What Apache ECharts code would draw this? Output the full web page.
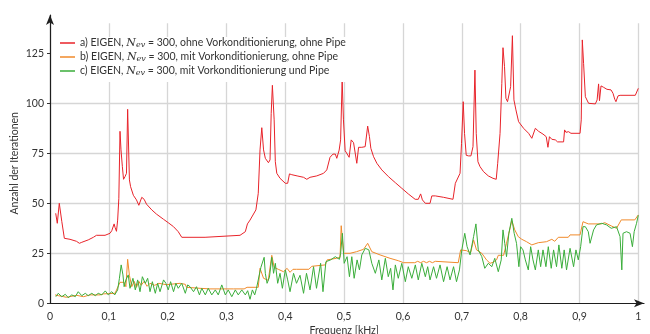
<!DOCTYPE html>
<html>
<head>
<meta charset="utf-8">
<title>EIGEN Iterationen</title>
<script src="https://cdn.jsdelivr.net/npm/echarts@6/dist/echarts.min.js"></script>
<style>
  html, body { margin: 0; padding: 0; background: #fff; }
  #chart { width: 650px; height: 334px; }
</style>
</head>
<body>
<div id="chart"></div>
<script>
// Frequency in kHz and iteration counts, [f, n] pairs per configuration
const eigenOhneVkOhnePipe = [
  [0.0097,45],[0.0124,40],[0.014,40],[0.0158,50],[0.02,41],[0.0216,40],[0.0244,32.5],[0.0267,32],[0.034,32],[0.0357,31],
  [0.045,31],[0.05,30],[0.054,30.5],[0.0556,31],[0.065,31.7],[0.068,32.5],[0.0737,33],[0.079,34],[0.0935,34],[0.095,35],
  [0.102,35],[0.105,36.3],[0.109,39.7],[0.1105,38],[0.113,36],[0.115,41.6],[0.117,52.5],[0.119,86],[0.1207,76.7],[0.123,68.3],
  [0.125,62],[0.1275,63.3],[0.13,65],[0.132,97],[0.135,61.7],[0.137,58.3],[0.1417,54],[0.147,51.7],[0.151,49],[0.153,48.7],
  [0.156,53],[0.16,52],[0.164,49.6],[0.173,46.7],[0.181,44.6],[0.193,42],[0.201,40.3],[0.21,38.3],[0.218,35.8],[0.224,33],
  [0.2636,33],[0.2665,34],[0.323,34],[0.326,34.8],[0.332,35.8],[0.3356,39.7],[0.34,41.6],[0.35,46.7],[0.3526,45.8],[0.354,55],
  [0.357,76.7],[0.36,87.8],[0.363,76.7],[0.366,72.5],[0.3713,70.3],[0.374,71.7],[0.376,95],[0.378,109],[0.381,91.7],[0.383,70.8],
  [0.3855,65],[0.391,62.5],[0.4,60],[0.404,60],[0.407,64.7],[0.411,64.3],[0.42,63.7],[0.431,63],[0.4365,62],[0.442,63],
  [0.4535,63.7],[0.465,65],[0.4705,66.7],[0.476,73],[0.481,74.6],[0.485,74.6],[0.4875,72.5],[0.4915,76.6],[0.494,81.7],[0.4966,112],
  [0.4988,91.7],[0.5017,76.3],[0.5046,75.3],[0.5085,73],[0.512,81.7],[0.516,80.3],[0.519,80],[0.5215,70],[0.5245,78],[0.53,78],
  [0.5357,78.3],[0.54,88.6],[0.543,83.3],[0.5454,77.5],[0.55,73.3],[0.5556,70],[0.564,66.7],[0.5754,63.3],[0.587,60.3],[0.598,57.5],
  [0.609,54.7],[0.6207,52],[0.626,52],[0.63,54.7],[0.633,51.7],[0.638,50],[0.646,50],[0.649,53.7],[0.655,53.7],[0.6576,53],
  [0.669,53],[0.6718,52],[0.685,52],[0.689,60],[0.697,65],[0.6995,80],[0.7024,100.8],[0.7046,85],[0.7075,74],[0.7115,73.7],
  [0.7155,73.7],[0.719,78.3],[0.7223,116.6],[0.7245,85],[0.7274,70.8],[0.731,68.3],[0.737,65.8],[0.745,63.7],[0.753,62.5],[0.7585,62],
  [0.761,70],[0.765,85],[0.768,110],[0.77,127.8],[0.7726,118.3],[0.775,102.5],[0.7777,100.8],[0.781,100.8],[0.783,108.3],[0.786,133.8],
  [0.7886,101.7],[0.792,96.7],[0.7965,90.8],[0.805,87.5],[0.8135,85],[0.819,82.5],[0.822,81.7],[0.825,87.5],[0.8305,86],[0.838,84.6],
  [0.8435,83.3],[0.8464,78],[0.849,83.3],[0.853,82],[0.859,81.7],[0.8628,80.7],[0.873,80.7],[0.8747,86.7],[0.877,85.5],[0.8815,85.8],
  [0.8855,85],[0.901,85],[0.903,91.7],[0.9048,131.7],[0.907,120],[0.91,103.3],[0.9155,100],[0.927,99.7],[0.93,101.7],[0.9325,109.7],
  [0.934,101.3],[0.9366,108.7],[0.941,108],[0.9467,107],[0.9536,106.7],[0.957,105],[0.96,102],[0.962,100.8],[0.9655,103.7],[0.969,104],
  [0.9949,104],[1.0,107.5]
];

const eigenMitVkOhnePipe = [
  [0.0085,4.2],[0.014,3.8],[0.02,3.5],[0.028,3],[0.045,4],[0.057,3.3],[0.068,4.2],[0.085,4.2],[0.091,4.7],[0.1105,5],
  [0.113,5.3],[0.119,10.5],[0.126,10.5],[0.129,8.3],[0.132,22],[0.135,14],[0.139,8.3],[0.143,11],[0.147,8],[0.151,11],
  [0.155,9],[0.16,11],[0.165,8.5],[0.17,10],[0.178,9],[0.185,10],[0.198,9.3],[0.2,9.5],[0.221,10],[0.23,9.5],
  [0.232,8],[0.255,7.5],[0.272,7.2],[0.312,7.2],[0.33,7.2],[0.335,8],[0.354,8],[0.357,17.5],[0.363,12.5],[0.371,11.5],
  [0.377,24],[0.381,18],[0.388,17],[0.397,15.8],[0.403,17.5],[0.408,15.5],[0.413,17],[0.419,17],[0.44,17],[0.445,18.5],
  [0.468,19.2],[0.471,21.7],[0.487,22.5],[0.493,23],[0.495,38.8],[0.499,25],[0.51,25],[0.521,25.8],[0.533,27],[0.54,30],
  [0.547,25.8],[0.561,24.2],[0.578,22.5],[0.592,21.3],[0.601,20.3],[0.62,20.3],[0.625,21],[0.63,20.3],[0.635,21],[0.64,20.3],
  [0.645,21],[0.65,20.3],[0.655,21],[0.694,20.3],[0.698,26.7],[0.708,26.3],[0.715,25.3],[0.72,31.7],[0.725,26.7],[0.734,25],
  [0.742,21.7],[0.748,20],[0.753,20.5],[0.759,21.7],[0.762,24],[0.771,24],[0.776,30],[0.785,41.3],[0.79,36.7],[0.796,33.3],
  [0.802,32],[0.81,30.8],[0.819,29.2],[0.83,30.3],[0.844,30.8],[0.853,32],[0.858,31],[0.864,33],[0.881,33],[0.884,34.2],
  [0.901,34.2],[0.906,40.8],[0.915,39.7],[0.937,39.7],[0.943,40.3],[0.954,38.7],[0.963,37.5],[0.971,41.7],[0.994,41.7],[1.0,44.2]
];

const eigenMitVkMitPipe = [
  [0.01,3.3],[0.014,5],[0.02,3.3],[0.026,4.5],[0.031,2.8],[0.037,4.2],[0.043,3.3],[0.048,5.8],[0.054,3.8],[0.06,5],
  [0.065,3.8],[0.071,5],[0.077,3.8],[0.082,5],[0.088,4.2],[0.094,6.2],[0.099,4.2],[0.105,5.8],[0.11,4.2],[0.115,6.7],
  [0.118,12.5],[0.121,19.2],[0.124,14.2],[0.126,8.3],[0.129,11.7],[0.133,14.2],[0.136,7.5],[0.141,12.5],[0.145,6.7],[0.149,11.7],
  [0.153,5.8],[0.157,13.3],[0.162,10],[0.166,12.5],[0.17,5.8],[0.174,10.8],[0.179,5],[0.183,10],[0.187,5.8],[0.193,11.7],
  [0.197,10],[0.201,6.7],[0.205,10.8],[0.21,5.8],[0.214,10],[0.218,7.5],[0.224,10],[0.23,5],[0.234,9.2],[0.238,8.3],
  [0.244,5.8],[0.249,8.3],[0.254,4.2],[0.258,7.5],[0.264,4.2],[0.269,7.5],[0.275,4.2],[0.281,6.7],[0.286,4.2],[0.292,9.2],
  [0.298,4.2],[0.303,6.7],[0.309,3.3],[0.315,6.7],[0.32,4.2],[0.326,6.7],[0.332,4.2],[0.336,6.3],[0.34,2],[0.344,6.7],
  [0.348,4.2],[0.351,7.5],[0.354,6.7],[0.3585,18],[0.364,23],[0.366,15],[0.369,10],[0.373,13],[0.377,23],[0.38,15],
  [0.383,20],[0.387,10],[0.391,15],[0.395,7.5],[0.4,16.7],[0.404,11.7],[0.408,5.8],[0.414,15],[0.419,10],[0.425,14],
  [0.431,5],[0.436,15],[0.442,6.7],[0.448,18.3],[0.453,7.5],[0.46,20],[0.464,5.8],[0.469,20.8],[0.477,21.7],[0.485,23.3],
  [0.492,22],[0.494,25],[0.497,35],[0.5,20],[0.505,23.3],[0.509,13.3],[0.513,23.3],[0.517,12.5],[0.522,21.7],[0.526,16.7],
  [0.53,24.2],[0.536,27.5],[0.542,26.7],[0.547,20],[0.553,15],[0.559,21.7],[0.564,11.7],[0.57,22.5],[0.575,13.3],[0.579,17.5],
  [0.583,6.7],[0.587,19.2],[0.592,12.5],[0.598,20],[0.604,10.8],[0.609,18.3],[0.615,12.5],[0.621,19.2],[0.626,11.7],[0.632,20],
  [0.638,13.3],[0.642,18.3],[0.646,11.7],[0.652,18.3],[0.657,12.5],[0.663,19.2],[0.669,10.8],[0.675,18.3],[0.68,11.7],[0.686,18.3],
  [0.691,10.8],[0.696,16.7],[0.7,26.7],[0.705,35],[0.709,28.3],[0.714,24.2],[0.72,33.3],[0.724,39.7],[0.728,26.7],[0.734,23.3],
  [0.739,17.5],[0.745,20],[0.751,18.3],[0.756,22.5],[0.762,15.8],[0.767,21.7],[0.77,36.7],[0.773,30],[0.776,23.3],[0.78,35],
  [0.785,42.5],[0.789,35],[0.793,30],[0.797,18.3],[0.8,28.3],[0.804,26.7],[0.808,21.7],[0.813,16.7],[0.817,28.3],[0.821,21.7],
  [0.825,16.7],[0.83,26.7],[0.834,18.3],[0.838,26.7],[0.843,18.3],[0.847,28.3],[0.852,17.5],[0.856,26.7],[0.861,18.3],[0.865,29.2],
  [0.87,17.5],[0.874,26.7],[0.878,16.7],[0.884,27.5],[0.89,18.3],[0.894,26.7],[0.898,21.7],[0.902,28.3],[0.906,38.3],[0.91,38.3],
  [0.915,35.8],[0.918,30],[0.924,36.7],[0.929,39.2],[0.938,40],[0.946,39.2],[0.954,37.5],[0.963,38.3],[0.969,33.3],[0.972,16.7],
  [0.974,35],[0.98,35.8],[0.986,35],[0.99,28.3],[0.993,35.8],[0.997,40],[1.0,44]
];

const yTicks = [0, 25, 50, 75, 100, 125];
const legendTags = ['a)', 'b)', 'c)'];
const legendTails = [
  'ohne Vorkonditionierung, ohne Pipe',
  'mit Vorkonditionierung, ohne Pipe',
  'mit Vorkonditionierung und Pipe'
];
const seriesColors = ['#e8232a', '#f08a2b', '#3aad3a'];
const seriesData = [eigenOhneVkOhnePipe, eigenMitVkOhnePipe, eigenMitVkMitPipe];

const FONT = 'Lato, "Open Sans", sans-serif';
const names = legendTags.map((t, i) => t + ' EIGEN, Nev = 300, ' + legendTails[i]);

const chart = echarts.init(document.getElementById('chart'), null, { renderer: 'canvas' });

const axisArrow = {
  show: true,
  symbol: ['none', 'arrow'],
  symbolSize: [6, 10],
  lineStyle: { color: '#1e1e1e', width: 1.2 }
};

chart.setOption({
  animation: false,
  textStyle: { fontFamily: FONT },
  grid: [
    { left: 50, right: 11.7, top: 23.3, bottom: 30.7, containLabel: false, outerBoundsMode: 'none' },
    { left: 50, right: 6, top: 15, bottom: 30.7, containLabel: false, outerBoundsMode: 'none' }
  ],
  legend: {
    data: names,
    orient: 'vertical',
    left: 58,
    top: 37,
    icon: 'rect',
    itemWidth: 15,
    itemHeight: 1.5,
    itemGap: 2,
    padding: [0, 10, 5, 2],
    backgroundColor: '#fff',
    formatter: function (name) {
      const i = names.indexOf(name);
      return '{t|' + legendTags[i] + ' EIGEN, }{n|N}{s|ev}{t| = 300, ' + legendTails[i] + '}';
    },
    textStyle: {
      color: '#333',
      rich: {
        t: { fontFamily: FONT, fontSize: 10.5, color: '#333', lineHeight: 13 },
        n: { fontFamily: '"DejaVu Serif", serif', fontStyle: 'italic', fontSize: 11, color: '#333', lineHeight: 13 },
        s: { fontFamily: '"DejaVu Serif", serif', fontStyle: 'italic', fontSize: 8, color: '#333', padding: [4, 0, 0, 0], lineHeight: 13 }
      }
    }
  },
  xAxis: [
    {
      gridIndex: 0,
      type: 'value',
      min: 0,
      max: 1,
      interval: 0.1,
      name: 'Frequenz [kHz]',
      nameLocation: 'middle',
      nameGap: 22,
      nameMoveOverlap: false,
      nameTextStyle: { fontFamily: FONT, fontSize: 10.5, color: '#333' },
      axisLine: { show: false },
      axisTick: { show: false },
      axisLabel: {
        margin: 8,
        fontFamily: FONT,
        fontSize: 10.5,
        color: '#333',
        formatter: v => String(Math.round(v * 10) / 10).replace('.', ',')
      },
      splitLine: { show: true, lineStyle: { color: '#d6d6d6', width: 1.3 } }
    },
    {
      gridIndex: 1,
      type: 'value',
      min: 0,
      max: 1,
      axisLine: axisArrow,
      axisTick: { show: false },
      axisLabel: { show: false },
      splitLine: { show: false }
    }
  ],
  yAxis: [
    {
      gridIndex: 0,
      type: 'value',
      min: 0,
      max: 140,
      interval: 25,
      name: 'Anzahl der Iterationen',
      nameLocation: 'middle',
      nameGap: 30,
      nameMoveOverlap: false,
      nameRotate: 90,
      nameTextStyle: { fontFamily: FONT, fontSize: 10.5, color: '#333' },
      axisLine: { show: false },
      axisTick: { show: true, length: 3, customValues: yTicks, lineStyle: { color: '#333' } },
      axisLabel: { margin: 6, fontFamily: FONT, fontSize: 10.5, color: '#333', customValues: yTicks },
      splitLine: { show: true, showMaxLine: false, showMinLine: false, lineStyle: { color: '#d6d6d6', width: 1.3 } }
    },
    {
      gridIndex: 1,
      type: 'value',
      min: 0,
      max: 1,
      axisLine: axisArrow,
      axisTick: { show: false },
      axisLabel: { show: false },
      splitLine: { show: false }
    }
  ],
  series: seriesData.map((d, i) => ({
    name: names[i],
    type: 'line',
    xAxisIndex: 0,
    yAxisIndex: 0,
    data: d,
    symbol: 'none',
    color: seriesColors[i],
    lineStyle: { color: seriesColors[i], width: 1 },
    z: 2 + i
  }))
});
</script>
</body>
</html>
